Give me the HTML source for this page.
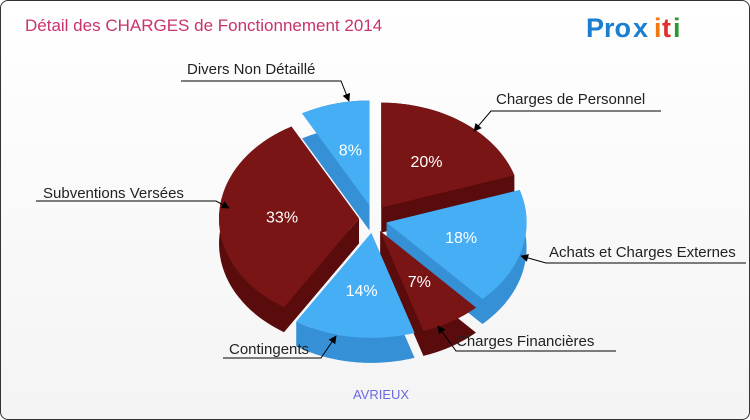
<!DOCTYPE html>
<html><head><meta charset="utf-8"><style>
body{margin:0;background:#fff}
#wrap{position:relative;width:748px;height:418px;border:1px solid #333;border-radius:8px;background:linear-gradient(#fff,#f4f4f4);overflow:hidden;font-family:"Liberation Sans",sans-serif}
</style></head><body>
<div id="wrap">
<svg id="svg" width="750" height="420">
<defs><marker id="ar" viewBox="0 0 10 10" refX="9" refY="5" markerWidth="8" markerHeight="8" orient="auto-start-reverse"><path d="M0,0L10,5L0,10z" fill="#000"/></marker></defs>
<text x="24" y="30" font-size="17" fill="#c8326e" font-family="Liberation Sans, sans-serif">Détail des CHARGES de Fonctionnement 2014</text>
<g font-family="Liberation Sans, sans-serif" font-size="27" font-weight="bold">
<text x="585" y="36" fill="#1a7fd0">Pro</text><text x="632" y="36" fill="#1a7fd0">x</text><text x="653" y="36" fill="#f07a10">i</text><text x="661" y="36" fill="#e03030">t</text><text x="672" y="36" fill="#2a9a30">i</text>
</g>
<g id="slices"></g>
<g id="labels" font-family="Liberation Sans, sans-serif" font-size="15" fill="#222"></g>
<text x="380" y="398" font-size="13" fill="#6a6ae0" text-anchor="middle" font-family="Liberation Sans, sans-serif">AVRIEUX</text>
</svg>
</div>
<script>
const categories=["Charges de Personnel","Achats et Charges Externes","Charges Financières","Contingents","Subventions Versées","Divers Non Détaillé"];
const values=[20,18,7,14,33,8];
const colorsTop=["#7a1515","#45aef5","#7a1515","#45aef5","#7a1515","#45aef5"];
const colorsSide=["#5a0c0c","#3590d6","#5a0c0c","#3590d6","#5a0c0c","#3590d6"];
const cx=372,cy=218,rx=140,ry=105,depth=25,ex=14;
const NS="http://www.w3.org/2000/svg";
const g=document.getElementById('slices');
const total=values.reduce((a,b)=>a+b,0);
function pt(a,ox,oy,d){const r=a*Math.PI/180;return [ox+rx*Math.sin(r),oy-ry*Math.cos(r)+(d||0)];}
let start=0;const sl=[];
values.forEach((v,i)=>{const a1=start,a2=start+v/total*360;start=a2;const m=(a1+a2)/2*Math.PI/180;
sl.push({i,a1,a2,m,ox:cx+ex*Math.sin(m),oy:cy-ex*Math.cos(m)});});
sl.slice().sort((a,b)=>Math.cos(b.m)-Math.cos(a.m)).forEach(s=>{
 const pts=[];const n=40;for(let k=0;k<=n;k++)pts.push(pt(s.a1+(s.a2-s.a1)*k/n,s.ox,s.oy));
 const side=document.createElementNS(NS,'path');
 let d="M"+s.ox+","+s.oy+" L"+pts.map(p=>p.join(",")).join(" L")+" L"+s.ox+","+s.oy+"Z ";
 d+="M"+pts.map(p=>p.join(",")).join(" L")+" L"+pts.slice().reverse().map(p=>p[0]+","+(p[1]+depth)).join(" L")+"Z ";
 d+="M"+s.ox+","+s.oy+" L"+pts[0].join(",")+" L"+pts[0][0]+","+(pts[0][1]+depth)+" L"+s.ox+","+(s.oy+depth)+"Z ";
 d+="M"+s.ox+","+s.oy+" L"+pts[n].join(",")+" L"+pts[n][0]+","+(pts[n][1]+depth)+" L"+s.ox+","+(s.oy+depth)+"Z";
 side.setAttribute('d',d);side.setAttribute('fill',colorsSide[s.i]);
 
 
 g.appendChild(side);
 const top=document.createElementNS(NS,'path');
 top.setAttribute('d',"M"+s.ox+","+s.oy+" L"+pts.map(p=>p.join(",")).join(" L")+"Z");
 top.setAttribute('fill',colorsTop[s.i]);
 
 
 g.appendChild(top);
 const lp=pt((s.a1+s.a2)/2,s.ox,s.oy);const f=0.55;
 const t=document.createElementNS(NS,'text');
 t.setAttribute('x',s.ox+(lp[0]-s.ox)*f);t.setAttribute('y',s.oy+(lp[1]-s.oy)*f+6);
 t.setAttribute('fill','#fff');t.setAttribute('font-size','16');t.setAttribute('text-anchor','middle');
 t.setAttribute('font-family','Liberation Sans, sans-serif');
 t.textContent=values[s.i]+"%";
 
 
 g.appendChild(t);
});
const L=document.getElementById('labels');
const defs=[
 [0,495,103,660,490,110,473,130],
 [1,548,256,745,545,262,520,255],
 [2,455,345,615,455,350,437,325],
 [3,228,353,222,320,357,335,335],
 [4,42,197,35,215,200,228,207],
 [5,186,73,180,340,80,348,100]];
defs.forEach(d=>{
 const t=document.createElementNS(NS,'text');
 t.setAttribute('x',d[1]);t.setAttribute('y',d[2]);t.textContent=categories[d[0]];
 
 
 L.appendChild(t);
 const p=document.createElementNS(NS,'path');
 p.setAttribute('d',`M${d[3]},${d[5]} L${d[4]},${d[5]} L${d[6]},${d[7]}`);
 p.setAttribute('stroke','#000');p.setAttribute('fill','none');p.setAttribute('marker-end','url(#ar)');
 
 
 L.appendChild(p);
});
</script>
</body></html>
